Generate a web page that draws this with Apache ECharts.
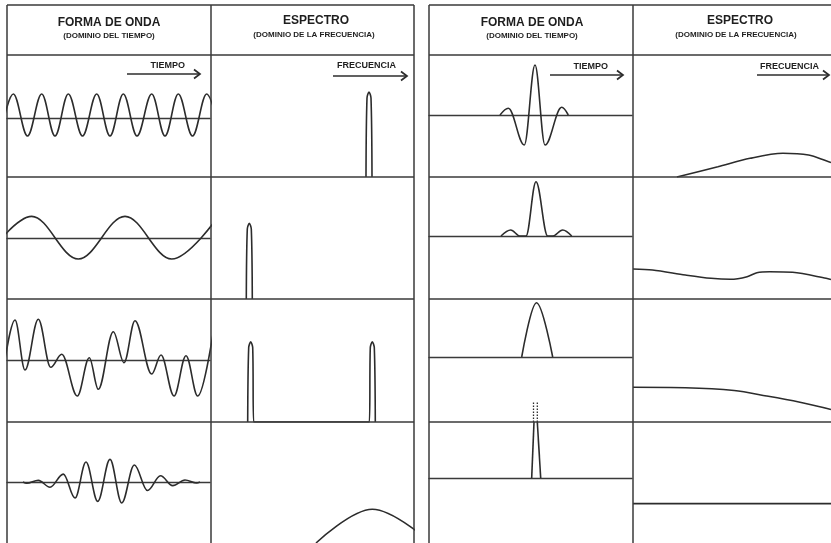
<!DOCTYPE html>
<html>
<head>
<meta charset="utf-8">
<script src="https://cdn.jsdelivr.net/npm/echarts@6/dist/echarts.min.js"></script>
<style>
  html, body { margin: 0; padding: 0; background: #fff; }
  #chart { width: 831px; height: 543px; }
</style>
</head>
<body>
<div id="chart"></div>
<script>
// ---- Headings ----
const headTitles = ['FORMA DE ONDA', 'ESPECTRO'];
const headSubtitles = ['(DOMINIO DEL TIEMPO)', '(DOMINIO DE LA FRECUENCIA)'];
const axisNames = ['TIEMPO', 'FRECUENCIA'];

// ---- Time-domain waveforms, left panel: [time, amplitude] at turning points ----
const waveL1 = [[-0.7,-1.8],[0.63,2.4],[2.05,-1.8],[3.47,2.4],[4.8,-1.8],[6.13,2.4],[7.55,-1.8],[8.97,2.4],[10.3,-1.8],[11.63,2.4],[13.0,-1.8],[14.47,2.4],[15.8,-1.8],[17.13,2.4],[18.55,-1.8],[19.97,2.4],[21.35,-1.8]];
const waveL2 = [[-2.18,-2.1],[2.47,2.16],[7.13,-2.1],[11.8,2.16],[16.47,-2.1],[21.13,2.16]];
const waveL3 = [[-0.4,-1.2],[0.8,4.0],[1.8,-1.0],[3.13,4.07],[4.37,-0.73],[5.47,0.57],[7.03,-3.6],[8.23,0.23],[9.13,-2.93],[10.63,2.83],[11.7,-0.27],[12.8,3.93],[14.47,-1.4],[15.4,0.5],[16.7,-3.6],[17.9,0.43],[19.07,-3.6],[20.8,3.9]];
const waveL4 = [[1.6,0],[1.97,-0.13],[3.13,0.17],[4.3,-0.53],[5.63,0.8],[6.8,-1.63],[7.9,2.03],[9.07,-1.97],[10.3,2.3],[11.47,-2.13],[12.73,1.73],[14.05,-0.87],[15.35,0.63],[16.57,-0.37],[17.8,0.2],[18.97,-0.1],[19.3,0]];

// ---- Spectra, left panel: [frequency, magnitude] (narrow lines: foot, shoulder, crest, shoulder, foot) ----
const specL1 = [[15.5,0],[15.6,7.9],[15.8,8.5],[16.0,7.9],[16.1,0]];
const specL2 = [[3.53,0],[3.63,7.0],[3.83,7.57],[4.03,7.0],[4.13,0]];
const specL3 = [[3.67,0],[3.77,7.45],[3.97,8.03],[4.17,7.45],[4.27,0],[15.83,0],[15.93,7.45],[16.13,8.03],[16.33,7.45],[16.43,0]];
const specL4 = [[10.5,0],[16.13,3.43],[22.0,0]];

// ---- Time-domain pulses, right panel ----
const waveR1 = [[7.1,0],[7.93,0.68],[9.53,-3.0],[10.6,5.0],[11.6,-3.0],[13.27,0.77],[13.93,0]];
const waveR2 = [[7.2,0],[8.17,0.6],[9.1,0],[9.7,0],[10.7,5.43],[11.87,0],[12.37,0],[13.37,0.6],[14.27,0]];
const waveR3 = [[9.27,0],[10.75,5.43],[12.37,0]];
const impulseLeft = [[10.27,0],[10.5,5.7]];
const impulseRight = [[10.83,5.7],[11.17,0]];
const impulseTailLeft = [[10.45,5.7],[10.45,7.73]];
const impulseTailRight = [[10.83,5.7],[10.83,7.73]];

// ---- Spectra, right panel ----
const specR1 = [[4.5,0],[8.7,1.03],[12.0,1.87],[15.37,2.37],[18.0,2.2],[19.8,1.63],[20.3,1.45]];
const specR2 = [[0,3.0],[2.0,2.9],[5.37,2.4],[8.0,2.07],[10.0,1.97],[11.7,2.23],[12.7,2.63],[14.0,2.73],[16.37,2.67],[19.8,2.07],[20.3,1.95]];
const specR3 = [[0,3.47],[5.37,3.43],[10.37,3.15],[13.7,2.6],[17.0,2.0],[19.8,1.37],[20.3,1.25]];
const specR4 = [[0,4.0],[20.3,4.0]];

// ---- Layout (pixels) ----
const PANEL_X = [[7, 211, 414], [429, 633, 836]];   // left edge, divider, right edge
const TOP_Y = 5;
const ROW_Y = [55, 177, 299, 422, 545];
const BASE_Y = [[118, 238, 360, 483], [115, 236, 357, 479]];
const UNIT = 10;                                     // pixels per data unit
const INSET = 1;                                     // keeps curves inside the ruled frame
const INK = '#2c2c2c';
const FRAME = '#3a3a3a';
const FONT = '"Liberation Sans", Arial, Helvetica, sans-serif';

const grids = [], xAxes = [], yAxes = [], series = [];

function addCell(left, right, top, bottom, baseline) {
  const i = grids.length;
  grids.push({ left: left, top: top, width: right - left, height: bottom - top, show: false });
  const hasBase = baseline != null;
  xAxes.push({
    type: 'value', gridIndex: i, min: 0, max: (right - left) / UNIT,
    show: hasBase,
    axisLine: { show: hasBase, onZero: true, lineStyle: { color: FRAME, width: 1.4 } },
    axisTick: { show: false }, axisLabel: { show: false }, splitLine: { show: false }
  });
  const b = hasBase ? baseline : bottom;
  yAxes.push({
    type: 'value', gridIndex: i, min: -(bottom - b) / UNIT, max: (b - top) / UNIT,
    show: false, splitLine: { show: false }
  });
  return i;
}

function addLine(cell, data, opts) {
  series.push(Object.assign({
    type: 'line', xAxisIndex: cell, yAxisIndex: cell, data: data,
    symbol: 'none', silent: true, animation: false,
    lineStyle: { color: INK, width: 1.6 }
  }, opts || {}));
}

const turning = { smooth: 0.36, smoothMonotone: 'x' };
const gentle = { smooth: 0.3 };
const peak = { smooth: 0.3 };

const wavesL = [waveL1, waveL2, waveL3, waveL4];
const specsL = [specL1, specL2, specL3, specL4];
const wavesR = [waveR1, waveR2, waveR3];
const specsR = [specR1, specR2, specR3, specR4];

for (let r = 0; r < 4; r++) {
  // left panel
  const [a0, a1, a2] = PANEL_X[0];
  const cw = addCell(a0, a1 - INSET, ROW_Y[r], ROW_Y[r + 1], BASE_Y[0][r]);
  addLine(cw, wavesL[r], turning);
  const cs = addCell(a1, a2 - INSET, ROW_Y[r], ROW_Y[r + 1], null);
  addLine(cs, specsL[r], r === 3 ? turning : peak);

  // right panel
  const [b0, b1, b2] = PANEL_X[1];
  const rw = addCell(b0, b1 - INSET, ROW_Y[r], ROW_Y[r + 1], BASE_Y[1][r]);
  if (r < 3) {
    addLine(rw, wavesR[r], turning);
  } else {
    addLine(rw, impulseLeft);
    addLine(rw, impulseRight);
    addLine(rw, impulseTailLeft, { clip: false, lineStyle: { color: INK, width: 1.3, type: [1.5, 1.5] } });
    addLine(rw, impulseTailRight, { clip: false, lineStyle: { color: INK, width: 1.3, type: [1.5, 1.5] } });
  }
  const rs = addCell(b1, b2, ROW_Y[r], ROW_Y[r + 1], null);
  addLine(rs, specsR[r], gentle);
}

// ---- Frame, headings and axis arrows ----
const graphics = [];
function hline(x1, x2, y) {
  graphics.push({ type: 'line', silent: true, z: 10, shape: { x1: x1, y1: y, x2: x2, y2: y }, style: { stroke: FRAME, lineWidth: 1.5 } });
}
function vline(x, y1, y2) {
  graphics.push({ type: 'line', silent: true, z: 10, shape: { x1: x, y1: y1, x2: x, y2: y2 }, style: { stroke: FRAME, lineWidth: 1.5 } });
}
function label(text, x, y, size, align) {
  graphics.push({
    type: 'text', silent: true, x: x, y: y,
    style: { text: text, fill: '#1e1e1e', font: 'bold ' + size + 'px ' + FONT, textAlign: align || 'center', textVerticalAlign: 'middle' }
  });
}
function arrow(x1, x2, y) {
  graphics.push({ type: 'line', silent: true, shape: { x1: x1, y1: y, x2: x2, y2: y }, style: { stroke: INK, lineWidth: 1.7 } });
  graphics.push({ type: 'polyline', silent: true, shape: { points: [[x2 - 6, y - 4.5], [x2, y], [x2 - 6, y + 4.5]] }, style: { stroke: INK, lineWidth: 1.7, fill: null } });
}

PANEL_X.forEach(function (px, p) {
  const right = p === 0 ? px[2] : 840;
  hline(px[0], right, TOP_Y);
  hline(px[0], right, ROW_Y[0]);
  for (let r = 1; r < 4; r++) hline(px[0], right, ROW_Y[r]);
  vline(px[0], TOP_Y, 545);
  vline(px[1], TOP_Y, 545);
  if (p === 0) vline(px[2], TOP_Y, 545);
});

// headings
label(headTitles[0], 109, 23, 12);
label(headSubtitles[0], 109, 36, 8);
label(headTitles[1], 316, 21, 12);
label(headSubtitles[1], 314, 34.5, 8);
label(headTitles[0], 532, 23, 12);
label(headSubtitles[0], 532, 36, 8);
label(headTitles[1], 740, 21, 12);
label(headSubtitles[1], 736, 34.5, 8);

// axis direction arrows
label(axisNames[0], 185, 66, 9, 'right');
arrow(127, 200, 74);
label(axisNames[1], 396, 66, 9, 'right');
arrow(333, 407, 76);
label(axisNames[0], 608, 67, 9, 'right');
arrow(550, 623, 75);
label(axisNames[1], 819, 67, 9, 'right');
arrow(757, 829, 75);

const chart = echarts.init(document.getElementById('chart'), null, { renderer: 'canvas' });
chart.setOption({
  backgroundColor: '#ffffff',
  animation: false,
  grid: grids,
  xAxis: xAxes,
  yAxis: yAxes,
  series: series,
  graphic: graphics
});
</script>
</body>
</html>
